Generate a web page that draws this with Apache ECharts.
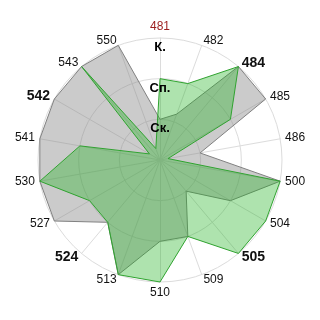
<!DOCTYPE html>
<html>
<head>
<meta charset="utf-8">
<script src="https://cdn.jsdelivr.net/npm/echarts@6/dist/echarts.min.js"></script>
<style>html,body{margin:0;padding:0;background:#fff}#c{width:320px;height:320px}</style>
</head>
<body>
<div id="c"></div>
<script>
// Categories in clockwise order starting from the top
const categories = ['481','482','484','485','486','500','504','505','509','510','513','524','527','530','541','542','543','550'];
const boldCategories = ['484','505','524','542'];
const highlightCategory = '481';
const grayValues  = [1, 1.2, 3, 3, 1, 3, 2, 1, 2, 2, 3, 2, 3, 3, 3, 3, 3, 3];
const greenValues = [2, 2, 3, 2, 0.2, 3, 3, 3, 2, 3, 3, 2, 2, 3, 2, 0.3, 3, 0.3];
const levelLabels = ['', 'Ск.', 'Сп.', 'К.'];

// ECharts radar runs counter-clockwise: reorder so the picture runs clockwise
function cw(arr) { return [arr[0]].concat(arr.slice(1).reverse()); }
const ordCats = cw(categories);

function makeIndicators(withLabel) {
  return ordCats.map(function (c, i) {
    const ind = { name: c, min: 0, max: 3 };
    if (c === highlightCategory) ind.color = '#9b1c1c';
    if (withLabel && i === 0) {
      ind.axisLabel = {
        show: true,
        showMinLabel: false,
        margin: 0,
        align: 'center',
        verticalAlign: 'top',
        padding: [3, 0, 0, 0],
        rotate: 0,
        fontFamily: 'Liberation Sans',
        fontSize: 13,
        fontWeight: 'bold',
        color: '#000',
        formatter: function (v) { return levelLabels[Math.round(v)] || ''; }
      };
    }
    return ind;
  });
}

const chart = echarts.init(document.getElementById('c'), null, { renderer: 'canvas' });
chart.setOption({
  animation: false,
  backgroundColor: '#fff',
  radar: [
    {
      z: 1,
      center: [160, 160],
      radius: 122,
      startAngle: 90,
      shape: 'circle',
      splitNumber: 3,
      indicator: makeIndicators(false),
      axisName: {
        color: '#111',
        fontFamily: 'Liberation Sans',
        fontSize: 12,
        formatter: function (name) {
          return boldCategories.indexOf(name) >= 0 ? '{b|' + name + '}' : name;
        },
        rich: {
          b: { fontFamily: 'Liberation Sans', fontSize: 14, fontWeight: 'bold', color: '#111' }
        }
      },
      nameGap: 5,
      axisLine: { lineStyle: { color: '#dcdcdc', width: 1 } },
      splitLine: { lineStyle: { color: '#dcdcdc', width: 1 } },
      splitArea: { show: false },
      axisTick: { show: false },
      axisLabel: { show: false }
    },
    {
      z: 10,
      center: [160, 160],
      radius: 122,
      startAngle: 90,
      shape: 'circle',
      splitNumber: 3,
      indicator: makeIndicators(true),
      axisName: { show: false },
      axisLine: { show: false },
      splitLine: { show: false },
      splitArea: { show: false },
      axisTick: { show: false },
      axisLabel: { show: false }
    }
  ],
  series: [
    {
      type: 'radar',
      radarIndex: 0,
      symbol: 'none',
      silent: true,
      z: 2,
      lineStyle: { color: '#808080', width: 1 },
      areaStyle: { color: 'rgba(135,135,135,0.62)' },
      data: [{ value: cw(grayValues), name: 'gray' }]
    },
    {
      type: 'radar',
      radarIndex: 0,
      symbol: 'none',
      silent: true,
      z: 3,
      lineStyle: { color: '#35a035', width: 1 },
      areaStyle: { color: 'rgba(34,178,34,0.52)' },
      data: [{ value: cw(greenValues), name: 'green' }]
    }
  ]
});
</script>
</body>
</html>
